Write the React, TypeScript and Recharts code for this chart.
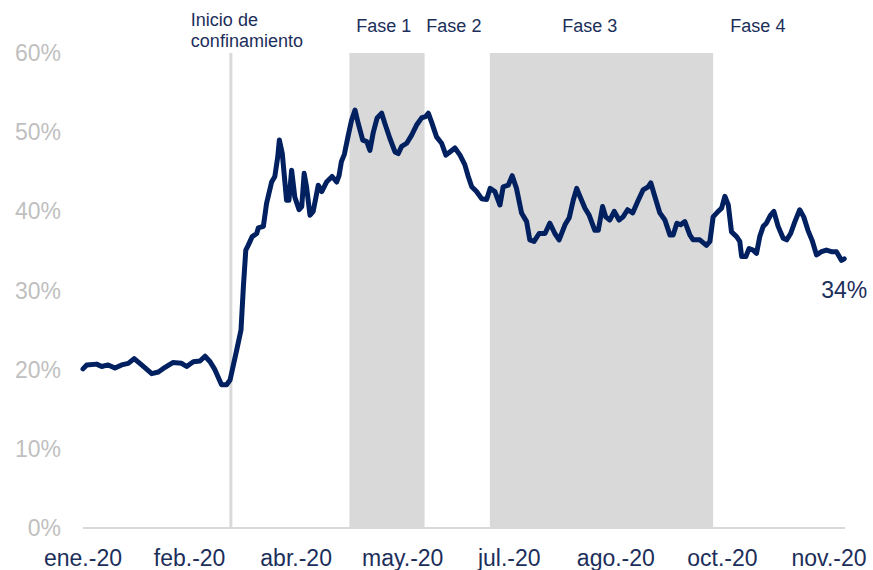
import React from "react";
import { LineChart, Line, XAxis, YAxis, ReferenceArea, ReferenceLine, ReferenceDot } from "recharts";

// x position (index units along the category axis) and value (%)
const xPos = [
  0, 1.4, 5.1, 7.0, 9.4, 12.0, 14.5, 17.0, 19.2, 22.0, 25.8, 28.3, 30.8, 33.7, 37.0, 38.9, 41.4, 43.9, 45.8, 47.7,
  49.5, 52.0, 53.9, 55.2, 57.7, 59.3, 60.2, 61.1, 62.0, 63.5, 65.2, 65.8, 67.7, 68.9, 70.8, 72.0, 73.1, 73.7, 74.8, 76.4,
  77.3, 78.3, 79.5, 81.1, 82.1, 83.0, 83.9, 85.2, 86.4, 88.3, 89.6, 91.4, 93.5, 95.2, 96.1, 97.0, 98.1, 99.5, 100.8, 102.1,
  103.3, 105.0, 106.5, 107.7, 108.9, 110.4, 112.1, 113.3, 115.2, 117.1, 118.3, 119.6, 121.5, 123.3, 125.2, 127.1, 128.7, 129.6, 130.8, 132.7,
  134.6, 136.2, 137.7, 139.6, 141.5, 143.3, 144.6, 145.9, 147.7, 149.6, 151.5, 152.8, 154.6, 156.5, 157.7, 159.6, 161.1, 162.7, 164.6, 166.5,
  167.7, 169.3, 171.2, 173.4, 175.2, 177.1, 178.7, 180.9, 182.5, 184.0, 185.3, 186.5, 188.4, 190.0, 192.1, 193.4, 195.0, 196.2, 197.7, 199.4,
  201.2, 202.7, 204.4, 206.3, 208.4, 210.2, 212.1, 213.1, 214.6, 216.5, 218.4, 220.3, 221.5, 222.9, 224.3, 225.9, 227.8, 229.0, 231.5, 234.0,
  235.3, 236.5, 238.4, 239.7, 240.9, 242.2, 243.4, 245.3, 246.5, 247.2, 248.8, 250.0, 251.5, 252.8, 254.0, 255.3, 256.5, 258.0, 259.3, 260.9,
  262.8, 264.1, 265.6, 267.2, 269.0, 270.5, 272.1, 273.8, 275.3, 277.2, 279.0, 280.9, 282.8, 284.7, 285.7,
];

const sharePct = [
  20.1, 20.6, 20.7, 20.4, 20.6, 20.2, 20.6, 20.8, 21.4, 20.6, 19.5, 19.7, 20.3, 20.9, 20.8, 20.4, 21.0, 21.1, 21.7, 21.0,
  20.0, 18.1, 18.1, 18.7, 22.5, 25.0, 30.5, 35.1, 35.7, 36.8, 37.2, 37.9, 38.1, 41.0, 43.7, 44.4, 46.9, 49.0, 47.3, 41.4,
  41.4, 45.2, 41.8, 40.2, 40.6, 44.8, 43.1, 39.5, 40.0, 43.3, 42.5, 43.7, 44.4, 43.7, 44.5, 46.3, 47.2, 49.5, 51.5, 52.8,
  51.1, 49.0, 48.8, 47.7, 49.9, 51.8, 52.4, 51.1, 49.2, 47.5, 47.3, 48.2, 48.6, 49.6, 50.9, 51.8, 52.0, 52.4, 51.3, 49.4,
  48.6, 47.1, 47.5, 48.0, 47.1, 45.9, 44.4, 43.1, 42.5, 41.6, 41.5, 42.9, 42.5, 40.8, 43.1, 43.3, 44.5, 42.9, 39.8, 38.7,
  36.4, 36.2, 37.2, 37.2, 38.5, 37.2, 36.4, 38.3, 39.2, 41.4, 42.9, 41.9, 40.4, 39.5, 37.6, 37.6, 40.6, 39.3, 38.9, 40.0,
  38.9, 39.3, 40.2, 39.8, 41.4, 42.7, 43.1, 43.6, 41.9, 39.8, 38.9, 37.0, 37.0, 38.5, 38.3, 38.7, 37.0, 36.4, 36.4, 35.7,
  36.2, 39.3, 40.0, 40.4, 41.9, 40.8, 37.4, 36.8, 36.2, 34.3, 34.3, 35.3, 35.1, 34.7, 36.8, 38.1, 38.5, 39.5, 40.0, 38.1,
  36.6, 36.4, 37.2, 38.7, 40.2, 39.3, 37.6, 36.2, 34.5, 34.9, 35.1, 34.9, 34.9, 33.8, 34.0,
];

const xTicks = [0, 40, 80, 120, 160, 200, 240, 280];
const xTickLabels = ["ene.-20", "feb.-20", "abr.-20", "may.-20", "jul.-20", "ago.-20", "oct.-20", "nov.-20"];
const yTicks = [0, 10, 20, 30, 40, 50, 60];

const lockdownX = 55.5;
const phaseAreas = [
  [100, 128.2],
  [152.7, 236.5],
];
const phaseLabels = ["Fase 1", "Fase 2", "Fase 3", "Fase 4"];
const phaseLabelX = [112.9, 139.2, 190.2, 253.3];

const data = xPos.map((x, i) => ({ x, v: sharePct[i] }));
const last = data[data.length - 1];

const FONT = "'Liberation Sans', Arial, sans-serif";
const NAVY = "#002060";
const TEXT = "#1c2e5a";
const GRAY = "#d9d9d9";

const LockdownLabel = (props: any) => {
  const { viewBox } = props;
  const x = viewBox.x - 40;
  return (
    <text x={x} y={26} fill={TEXT} fontSize={18} fontFamily={FONT} textAnchor="start">
      <tspan x={x} y={26}>Inicio de</tspan>
      <tspan x={x} y={47}>confinamiento</tspan>
    </text>
  );
};

export default function App() {
  return (
    <div style={{ width: 873, height: 570, background: "#fff" }}>
      <style>{"body{margin:0}"}</style>
      <LineChart
        width={873}
        height={570}
        data={data}
        margin={{ top: 53, right: 28, bottom: 0, left: 0 }}
      >
        <XAxis
          dataKey="x"
          type="number"
          domain={[0, 286]}
          ticks={xTicks}
          tickFormatter={(v: number) => xTickLabels[xTicks.indexOf(v)] ?? ""}
          height={42}
          axisLine={{ stroke: GRAY, strokeWidth: 2 }}
          tickLine={false}
          tickSize={6}
          tickMargin={16}
          tick={{ fill: TEXT, fontSize: 23, fontFamily: FONT }}
          interval={0}
        />
        <YAxis
          type="number"
          domain={[0, 60]}
          ticks={yTicks}
          tickFormatter={(v: number) => `${v}%`}
          width={83}
          axisLine={false}
          tickLine={false}
          tickSize={6}
          tickMargin={16}
          tick={{ fill: "#bfbfbf", fontSize: 23, fontFamily: FONT }}
        />
        {phaseAreas.map(([a, b], i) => (
          <ReferenceArea key={i} x1={a} x2={b} y1={0} y2={60} fill={GRAY} fillOpacity={1} stroke="none" />
        ))}
        <ReferenceLine x={lockdownX} stroke={GRAY} strokeWidth={3} label={<LockdownLabel />} />
        {phaseLabels.map((t, i) => (
          <ReferenceLine
            key={t}
            x={phaseLabelX[i]}
            stroke="none"
            label={{ value: t, position: "top", offset: 21, fill: TEXT, fontSize: 18, fontFamily: FONT }}
          />
        ))}
        <Line
          type="linear"
          dataKey="v"
          stroke={NAVY}
          strokeWidth={5}
          dot={false}
          isAnimationActive={false}
          strokeLinejoin="round"
          strokeLinecap="round"
        />
        <ReferenceDot
          x={last.x}
          y={last.v}
          r={0}
          fill="none"
          stroke="none"
          label={{ value: `${Math.round(last.v)}%`, position: "bottom", offset: 23, fill: TEXT, fontSize: 23, fontFamily: FONT }}
        />
      </LineChart>
    </div>
  );
}
